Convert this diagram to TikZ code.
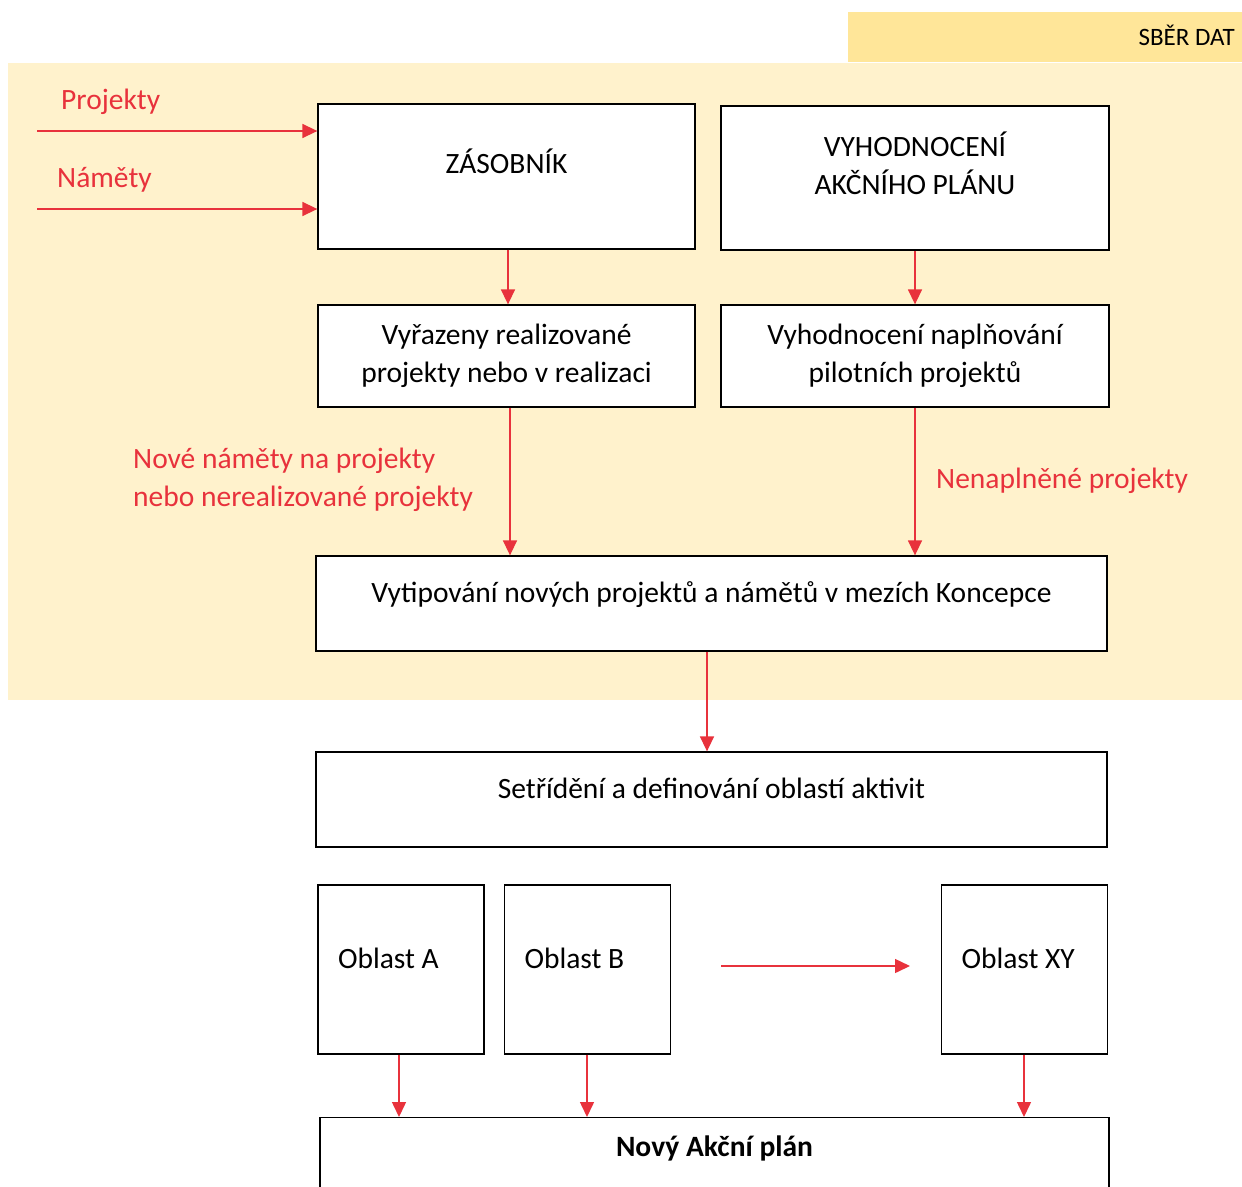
\documentclass[tikz,border=0pt]{standalone}
\usepackage{fontspec}
\setmainfont{Carlito}
\usetikzlibrary{arrows.meta}
\definecolor{flowred}{RGB}{232,50,60}
\definecolor{bandfill}{RGB}{255,242,204}
\definecolor{tabfill}{RGB}{255,230,153}

\begin{document}
\begin{tikzpicture}
[
x=1pt,y=-1pt,
font=\fontsize{29.5}{38}\selectfont,
box/.style 2 args={draw=black,fill=white,line width=1.3pt,align=center,
            minimum width=#1,minimum height=#2,inner sep=0pt,
            text height=20pt,text depth=23pt},
oblast/.style={box={166pt}{169pt},align=flush left,text width=126pt,inner xsep=20pt},
flow/.style={draw=flowred,line width=1.5pt,-{Triangle[length=15pt,width=14pt]}},
redtext/.style={text=flowred,inner sep=0pt,align=left},
]

\useasboundingbox (0,0) rectangle (1242,1186);

\fill[bandfill] (8,63) rectangle (1242,700);
\fill[tabfill] (848,12) rectangle (1242,62);
\node[anchor=east,inner sep=0pt,font=\fontsize{25}{30}\selectfont] (tab) at (1235,35) {SBĚR DAT};

\node[box={377pt}{145pt},text depth=26pt] (zas) at (506.5,176.5) {ZÁSOBNÍK};
\node[box={388pt}{144pt},text height=45pt,text depth=12pt] (vyh) at (915,178) {VYHODNOCENÍ\\AKČNÍHO PLÁNU};
\node[box={377pt}{102pt},text height=60pt,text depth=8pt] (vyr) at (506.5,356) {Vyřazeny realizované\\projekty nebo v realizaci};
\node[box={388pt}{102pt},text height=60pt,text depth=8pt] (nap) at (915,356) {Vyhodnocení naplňování\\pilotních projektů};
\node[box={791pt}{95pt}] (vyt) at (711.5,603.5) {Vytipování nových projektů a námětů v mezích Koncepce};
\node[box={791pt}{95pt}] (set) at (711.5,799.5) {Setřídění a definování oblastí aktivit};

\node[oblast] (oa) at (401,969.5) {Oblast A};
\node[oblast] (ob) at (587.5,969.5) {Oblast B};
\node[oblast] (oxy) at (1024.5,969.5) {Oblast XY};

\node[box={789pt}{0pt},anchor=north,text height=39pt,text depth=62pt,font=\fontsize{29.5}{38}\selectfont\bfseries] (novy) at (714.5,1117) {Nový Akční plán};

\node[redtext,anchor=base west] (lproj) at (61,109) {Projekty};
\node[redtext,anchor=base west] (lnam) at (57,187) {Náměty};
\node[redtext,anchor=base west] (lnove) at (133,506) {Nové náměty na projekty\\nebo nerealizované projekty};
\node[redtext,anchor=base west] (lnenap) at (936,488) {Nenaplněné projekty};

\coordinate (pin) at (37,131);
\coordinate (nin) at (37,209);
\coordinate (gaps) at (721,966);
\coordinate (gape) at (910,966);

\draw[flow] (pin) -- (pin -| zas.west);
\draw[flow] (nin) -- (nin -| zas.west);
\draw[flow] ([xshift=1.5pt]zas.south) -- ([xshift=1.5pt]vyr.north);
\draw[flow] (vyh) -- (nap);
\draw[flow] ([xshift=3.5pt]vyr.south) -- ([xshift=3.5pt]vyr.south |- vyt.north);
\draw[flow] (nap) -- (nap |- vyt.north);
\draw[flow] ([xshift=-4.5pt]vyt.south) -- ([xshift=-4.5pt]set.north);
\draw[flow] (gaps) -- (gape);
\draw[flow] ([xshift=-2pt]oa.south) -- ([xshift=-2pt]oa.south |- novy.north);
\draw[flow] ([xshift=-0.5pt]ob.south) -- ([xshift=-0.5pt]ob.south |- novy.north);
\draw[flow] ([xshift=-0.5pt]oxy.south) -- ([xshift=-0.5pt]oxy.south |- novy.north);

\end{tikzpicture}
\end{document}
